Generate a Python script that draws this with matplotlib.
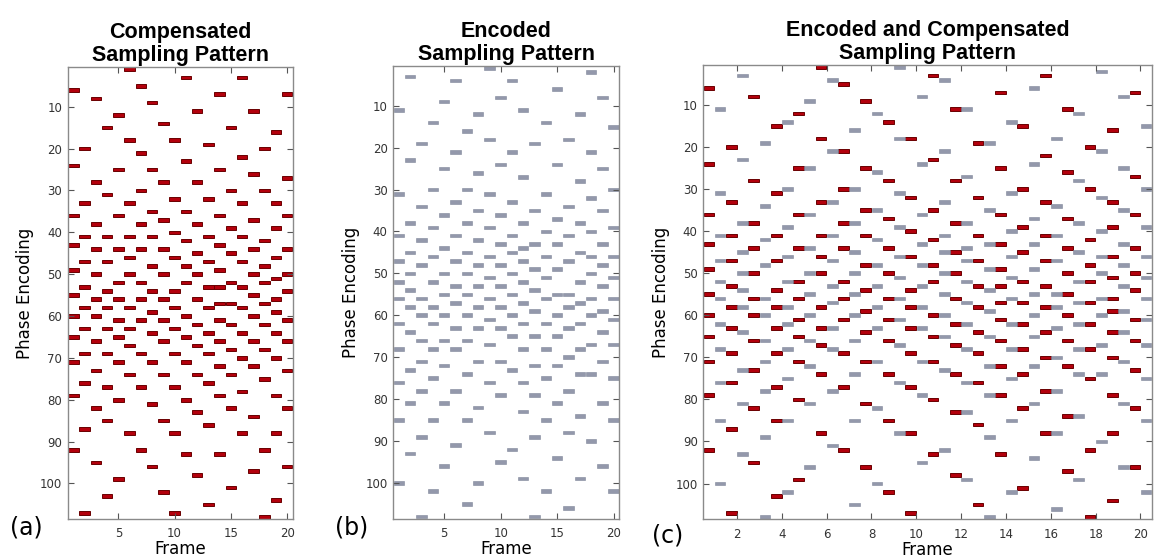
import numpy as np
import matplotlib.pyplot as plt

frames = list(range(1, 21))

comp_rows = [
    [6, 24, 36, 43, 49, 55, 60, 65, 71, 79, 92],
    [20, 33, 41, 47, 53, 58, 63, 69, 76, 87, 107],
    [8, 28, 38, 44, 50, 56, 60, 66, 73, 82, 95],
    [15, 31, 41, 47, 54, 58, 63, 69, 77, 85, 103],
    [12, 25, 36, 44, 52, 56, 61, 65, 71, 80, 99],
    [1, 18, 33, 41, 46, 50, 58, 63, 67, 74, 88],
    [5, 21, 30, 38, 44, 52, 56, 61, 69, 77, 92],
    [9, 25, 35, 41, 48, 54, 59, 64, 71, 81, 96],
    [14, 28, 37, 44, 50, 56, 61, 66, 74, 85, 102],
    [18, 32, 40, 46, 54, 58, 63, 69, 77, 88, 107],
    [3, 23, 35, 42, 48, 52, 60, 65, 71, 80, 93],
    [11, 28, 38, 45, 50, 56, 62, 67, 74, 83, 98],
    [19, 32, 41, 47, 53, 58, 64, 69, 76, 86, 105],
    [7, 25, 36, 43, 49, 53, 57, 61, 66, 72, 79, 93],
    [15, 30, 39, 45, 52, 57, 62, 68, 74, 82, 101],
    [3, 22, 33, 41, 47, 53, 58, 64, 70, 78, 88],
    [11, 26, 37, 44, 50, 55, 60, 66, 72, 84, 97],
    [20, 30, 42, 48, 52, 57, 62, 68, 75, 92, 108],
    [16, 33, 39, 46, 51, 56, 59, 64, 70, 79, 88, 104],
    [7, 27, 36, 44, 50, 54, 61, 66, 73, 82, 96],
]

enc_rows = [
    [11, 31, 41, 47, 52, 56, 62, 68, 76, 85, 100],
    [3, 23, 38, 45, 50, 54, 58, 64, 73, 81, 93],
    [19, 34, 42, 48, 56, 60, 66, 71, 78, 89, 108],
    [14, 30, 39, 46, 52, 58, 62, 68, 75, 85, 102],
    [9, 25, 36, 44, 50, 55, 60, 66, 72, 81, 96],
    [4, 21, 33, 41, 47, 53, 57, 63, 68, 78, 91],
    [16, 30, 38, 45, 50, 55, 60, 66, 74, 85, 105],
    [12, 26, 35, 42, 48, 53, 58, 63, 71, 82, 100],
    [1, 18, 31, 39, 46, 51, 56, 61, 67, 76, 88],
    [8, 24, 36, 43, 48, 53, 58, 63, 71, 79, 95],
    [4, 21, 33, 41, 45, 50, 55, 60, 65, 73, 92],
    [11, 27, 38, 44, 47, 52, 57, 62, 68, 76, 83, 99],
    [19, 35, 43, 49, 54, 59, 65, 72, 79, 89, 108],
    [14, 31, 40, 46, 51, 56, 62, 68, 75, 85, 102],
    [6, 24, 37, 43, 49, 55, 60, 65, 72, 81, 94],
    [18, 34, 41, 47, 55, 58, 63, 70, 78, 88, 106],
    [12, 28, 38, 45, 52, 57, 62, 68, 74, 84, 99],
    [2, 21, 32, 40, 46, 50, 56, 60, 67, 74, 90],
    [8, 25, 35, 43, 48, 53, 59, 64, 71, 81, 96],
    [15, 30, 39, 46, 51, 56, 61, 67, 75, 85, 102],
]

n_lines = 108

RED, RED_EDGE = '#b3000c', '#6a0000'
GRAY, GRAY_EDGE = '#9398ab', '#80859a'
TITLE_FONT = ['Liberation Sans', 'DejaVu Sans']

W, H = 1158, 560
fig = plt.figure(figsize=(W / 100, H / 100), dpi=100)


def px_axes(left, right, top, bottom):
    return fig.add_axes([left / W, 1 - bottom / H, (right - left) / W, (bottom - top) / H])


def draw_marks(ax, rows_list, offset, width, color, edge, lw):
    for f, rows in zip(frames, rows_list):
        r = np.array(rows)
        ax.bar(np.full(len(r), f + offset), 0.86, width=width, bottom=r - 0.43,
               color=color, edgecolor=edge, linewidth=lw)


def style(ax, title, xticks):
    ax.set_xlim(0.5, 20.5)
    ax.set_ylim(n_lines + 0.5, 0.5)
    ax.set_xticks(xticks)
    ax.set_yticks(range(10, 101, 10))
    ax.tick_params(direction='in', top=True, right=True, length=4, width=0.8,
                   labelsize=8.5, labelcolor='#333333', color='#555555', pad=4)
    ax.tick_params(axis='x', pad=6)
    for s in ax.spines.values():
        s.set_color('#8a8a8a')
        s.set_linewidth(1.0)
    ax.set_title(title, fontsize=15.5, fontweight='bold', family=TITLE_FONT,
                 linespacing=1.15, pad=4)
    ax.set_xlabel('Frame', fontsize=12, labelpad=0)
    ax.set_ylabel('Phase Encoding', fontsize=12, labelpad=4)


ax_a = px_axes(67.7, 292.7, 67, 519)
draw_marks(ax_a, comp_rows, 0.0, 0.92, RED, RED_EDGE, 0.7)
style(ax_a, 'Compensated\nSampling Pattern', [5, 10, 15, 20])

ax_b = px_axes(393.3, 619.3, 66, 518.5)
draw_marks(ax_b, enc_rows, 0.0, 0.92, GRAY, GRAY_EDGE, 0.4)
style(ax_b, 'Encoded\nSampling Pattern', [5, 10, 15, 20])

ax_c = px_axes(703.3, 1151.7, 65, 519.3)
draw_marks(ax_c, comp_rows, -0.25, 0.48, RED, RED_EDGE, 0.7)
draw_marks(ax_c, enc_rows, 0.25, 0.48, GRAY, GRAY_EDGE, 0.4)
style(ax_c, 'Encoded and Compensated\nSampling Pattern', list(range(2, 21, 2)))

for label, x, y in [('(a)', 10, 527), ('(b)', 335, 527), ('(c)', 652, 535)]:
    fig.text(x / W, 1 - y / H, label, fontsize=17, va='center', ha='left')

fig.savefig('out.png', dpi=100)
